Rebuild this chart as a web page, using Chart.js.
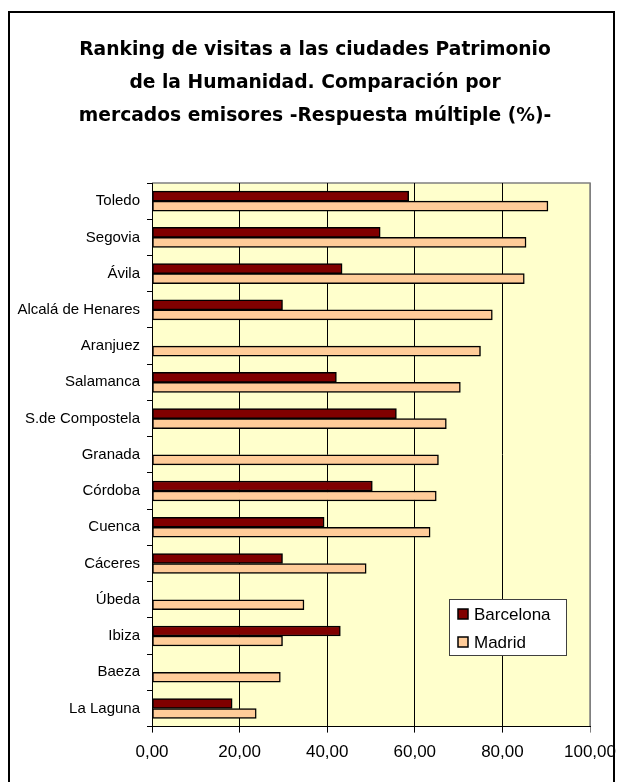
<!DOCTYPE html>
<html>
<head>
<meta charset="utf-8">
<script src="https://cdn.jsdelivr.net/npm/chart.js@4"></script>
<style>
  body { margin: 0; background: #fff; }
  #wrap { position: relative; width: 618px; height: 782px; overflow: hidden; }
  #chart { position: absolute; left: 0; top: 0; }
  #frame { position: absolute; left: 8px; top: 11px; width: 603px; height: 800px; border: 2px solid #000; pointer-events: none; }
</style>
</head>
<body>
<div id="wrap">
  <canvas id="chart" width="618" height="782"></canvas>
  <div id="frame"></div>
</div>
<script>
// Daten
const cities = ['Toledo', 'Segovia', 'Ávila', 'Alcalá de Henares', 'Aranjuez', 'Salamanca', 'S.de Compostela',
    'Granada', 'Córdoba', 'Cuenca', 'Cáceres', 'Úbeda', 'Ibiza', 'Baeza', 'La Laguna'];
const barcelona = [58.6, 52.1, 43.4, 29.8, null, 42.1, 55.8, null, 50.3, 39.3, 29.8, null, 43.0, null, 18.3];
const madrid = [90.4, 85.4, 85.0, 77.7, 75.0, 70.4, 67.2, 65.4, 64.9, 63.5, 48.9, 34.7, 29.8, 29.3, 23.8];
const xTickLabels = ['0,00', '20,00', '40,00', '60,00', '80,00', '100,00'];
const titleLines = ['Ranking de visitas a las ciudades Patrimonio', 'de la Humanidad. Comparación por', 'mercados emisores -Respuesta múltiple (%)-'];

const labelFont = { family: "'Liberation Sans', Arial, sans-serif", size: 15 };

// Hintergrund und Rahmen der Zeichenfläche
const plotBg = {
    id: 'plotBg',
    beforeDraw(chart) {
        const { ctx, chartArea: a } = chart;
        ctx.save();
        ctx.fillStyle = '#FFFFCC';
        ctx.fillRect(a.left, a.top, a.right - a.left, a.bottom - a.top);
        ctx.strokeStyle = '#808080';
        ctx.lineWidth = 1.5;
        ctx.beginPath();
        ctx.moveTo(a.left, a.top);
        ctx.lineTo(a.right, a.top);
        ctx.lineTo(a.right, a.bottom);
        ctx.stroke();
        ctx.restore();
    }
};

// Legende im Diagramm
const boxLegend = {
    id: 'boxLegend',
    afterDraw(chart) {
        const ctx = chart.ctx;
        const x = 449, y = 599, w = 117, h = 56;
        ctx.save();
        ctx.fillStyle = '#fff';
        ctx.fillRect(x, y, w, h);
        ctx.strokeStyle = '#404040';
        ctx.lineWidth = 1;
        ctx.strokeRect(x + 0.5, y + 0.5, w, h);
        ctx.font = "17px 'Liberation Sans', Arial, sans-serif";
        ctx.textBaseline = 'middle';
        chart.data.datasets.forEach((ds, i) => {
            const cy = y + 15 + i * 28;
            ctx.fillStyle = ds.backgroundColor;
            ctx.fillRect(x + 9, cy - 5, 10, 10);
            ctx.strokeStyle = '#000';
            ctx.lineWidth = 1.5;
            ctx.strokeRect(x + 9, cy - 5, 10, 10);
            ctx.fillStyle = '#000';
            ctx.fillText(ds.label, x + 25, cy + 1);
        });
        ctx.restore();
    }
};

const ctx = document.getElementById('chart').getContext('2d');
const chart = new Chart(ctx, {
    type: 'bar',
    data: {
        labels: cities,
        datasets: [{
            label: 'Barcelona',
            data: barcelona,
            backgroundColor: '#800000',
            borderColor: '#000',
            borderWidth: 1.5,
            borderSkipped: false,
            barThickness: 10
        }, {
            label: 'Madrid',
            data: madrid,
            backgroundColor: '#FFCC99',
            borderColor: '#000',
            borderWidth: 1.5,
            borderSkipped: false,
            barThickness: 10
        }]
    },
    options: {
        indexAxis: 'y',
        responsive: false,
        animation: false,
        layout: { padding: { left: 12, right: 0, top: 0, bottom: 9 } },
        plugins: {
            legend: { display: false },
            tooltip: { enabled: false },
            title: {
                display: true,
                text: titleLines,
                color: '#000',
                font: { family: "'DejaVu Sans', sans-serif", size: 18.7, weight: 'bold', lineHeight: '33px' },
                padding: { top: 34, bottom: 50 }
            }
        },
        scales: {
            x: {
                min: 0,
                max: 100,
                afterFit: s => { s.paddingRight = 28; s.paddingLeft = 0; },
                ticks: {
                    stepSize: 20,
                    color: '#000',
                    font: { family: "'Liberation Sans', Arial, sans-serif", size: 17 },
                    padding: 10,
                    maxRotation: 0,
                    callback: (v, i) => xTickLabels[i]
                },
                grid: {
                    color: c => (c.tick && c.tick.value === 100) ? '#808080' : '#000',
                    lineWidth: 1,
                    tickLength: 6
                },
                border: { color: '#000', width: 1 }
            },
            y: {
                afterFit: s => { s.width = 140; },
                ticks: { color: '#000', font: labelFont, padding: 7, autoSkip: false },
                grid: { drawOnChartArea: false, color: '#000', tickLength: 5 },
                border: { color: '#000', width: 1 }
            }
        }
    },
    plugins: [plotBg, boxLegend]
});
</script>
</body>
</html>
